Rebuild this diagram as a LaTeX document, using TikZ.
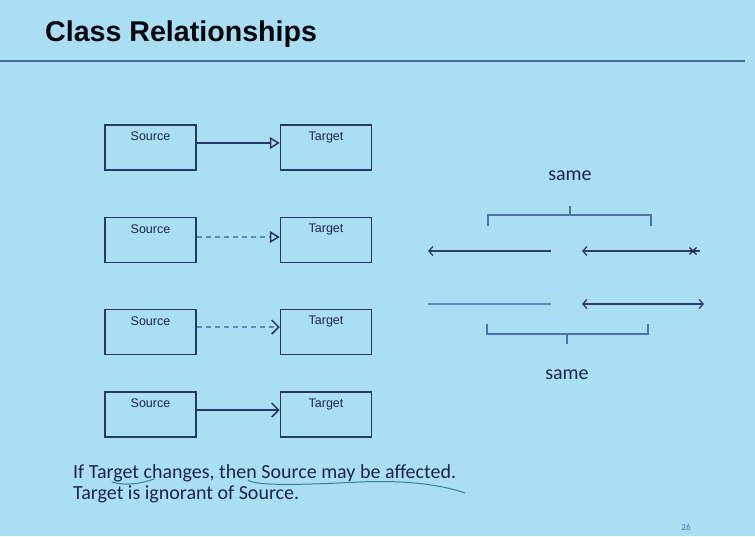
\documentclass[tikz,border=0pt]{standalone}
\usepackage{fontspec}
\setmainfont{Carlito}
\newfontfamily\arialfont{Liberation Sans}
\usetikzlibrary{arrows.meta}
\definecolor{bg}{RGB}{170,222,243}
\definecolor{ink}{RGB}{30,35,80}
\definecolor{boxline}{RGB}{40,55,100}
\definecolor{rule}{RGB}{70,105,150}
\definecolor{brace}{RGB}{75,115,165}
\definecolor{pen}{RGB}{50,130,150}
\tikzset{
  cbox/.style={draw=boxline, line width=1.5pt, minimum width=91pt, minimum height=45pt, inner sep=0pt},
  boxlabel/.style={font=\arialfont\fontsize{12.5}{14}\selectfont, text=ink},
  conn/.style={draw=boxline, line width=1.5pt},
  dashconn/.style={draw=brace!80!bg, line width=1.5pt, dash pattern=on 5pt off 4pt},
  hollowhead/.style={-{Triangle[open, length=10pt, width=12pt, line width=1.5pt, color=boxline]}},
  openhead/.style={-{Straight Barb[length=7pt, width=14pt, line width=1.5pt, color=boxline]}},
  navarrow/.style={draw=ink!85!bg, line width=1.3pt},
  smallbarb/.tip={Straight Barb[length=4pt, width=9pt, line width=1.3pt]},
  bracestyle/.style={draw=brace, line width=1.3pt},
  sametext/.style={font=\fontsize{20}{24}\selectfont, text=ink},
  bodytext/.style={font=\fontsize{20}{24}\selectfont, text=ink, anchor=base west},
  penline/.style={draw=pen, line width=1pt, line cap=round}
}
\begin{document}
\begin{tikzpicture}[x=1pt, y=-1pt]
\fill[bg] (0,0) rectangle (755,536);
\useasboundingbox (0,0) rectangle (755,536);
% title
\node[anchor=base west, inner sep=0pt, font=\arialfont\bfseries\fontsize{28.6}{32}\selectfont, text=black!85!ink] (title) at (45,41) {Class Relationships};
\draw[draw=rule, line width=2pt] (0,61) -- (745,61);
% boxes
\foreach \n/\y in {1/147.5, 2/240, 3/332, 4/414.5}{
  \node[cbox, label={[boxlabel, anchor=north, yshift=-4pt]north:Source}] (s\n) at (150.5,\y) {};
  \node[cbox, label={[boxlabel, anchor=north, yshift=-4pt]north:Target}] (t\n) at (326,\y) {};
}
\draw[conn, hollowhead] (s1.east |- 0,143) -- (t1.west |- 0,143);
\draw[dashconn, hollowhead] (s2.east |- 0,237) -- (t2.west |- 0,237);
\draw[dashconn, openhead] (s3.east |- 0,327) -- (t3.west |- 0,327);
\draw[conn, openhead] (s4.east |- 0,410) -- (t4.west |- 0,410);
% right side
\node[sametext] (same1) at (570,176) {same};
\coordinate (b1l) at (488,226);
\coordinate (b1r) at (651,226);
\draw[bracestyle] (b1l) -- (488,215) -- (651,215) -- (b1r);
\coordinate (b1m) at (570,206);
\draw[bracestyle] (570,215) -- (b1m);
\coordinate (a1s) at (551,251);
\coordinate (a1e) at (428,251);
\draw[navarrow, -smallbarb] (a1s) -- (a1e);
\coordinate (a2s) at (700,251);
\coordinate (a2e) at (582,251);
\draw[navarrow, -smallbarb] (a2s) -- (a2e);
\coordinate (xc) at (693,251);
\draw[draw=ink, line width=1.3pt] ([shift={(-3.5,-3.5)}]xc) -- ([shift={(3.5,3.5)}]xc);
\draw[draw=ink, line width=1.3pt] ([shift={(-3.5,3.5)}]xc) -- ([shift={(3.5,-3.5)}]xc);
\coordinate (l3s) at (428,304);
\coordinate (l3e) at (551,304);
\draw[draw=brace!80!bg, line width=1.3pt] (l3s) -- (l3e);
\coordinate (a4s) at (582,304);
\coordinate (a4e) at (704,304);
\draw[navarrow, smallbarb-smallbarb] (a4s) -- (a4e);
\coordinate (b2l) at (487,324);
\coordinate (b2r) at (648,324);
\draw[bracestyle] (b2l) -- (487,334) -- (648,334) -- (b2r);
\coordinate (b2m) at (567,344);
\draw[bracestyle] (567,334) -- (b2m);
\node[sametext] (same2) at (567,375) {same};
% body text
\node[bodytext, inner sep=0pt] (line1) at (73,478) {If Target changes, then Source may be affected.};
\node[bodytext, inner sep=0pt] (line2) at (73,499) {Target is ignorant of Source.};
% pen annotations
\draw[penline] (112,482) .. controls (125,486) and (140,484) .. (154,479);
\draw[penline] (248,480) .. controls (255,486) and (300,485) .. (360,482) .. controls (400,480) and (440,484) .. (465,493);
% page number
\node[font=\fontsize{9}{10}\selectfont, text=brace] (pnum) at (686,527) {26};
\end{tikzpicture}
\end{document}
